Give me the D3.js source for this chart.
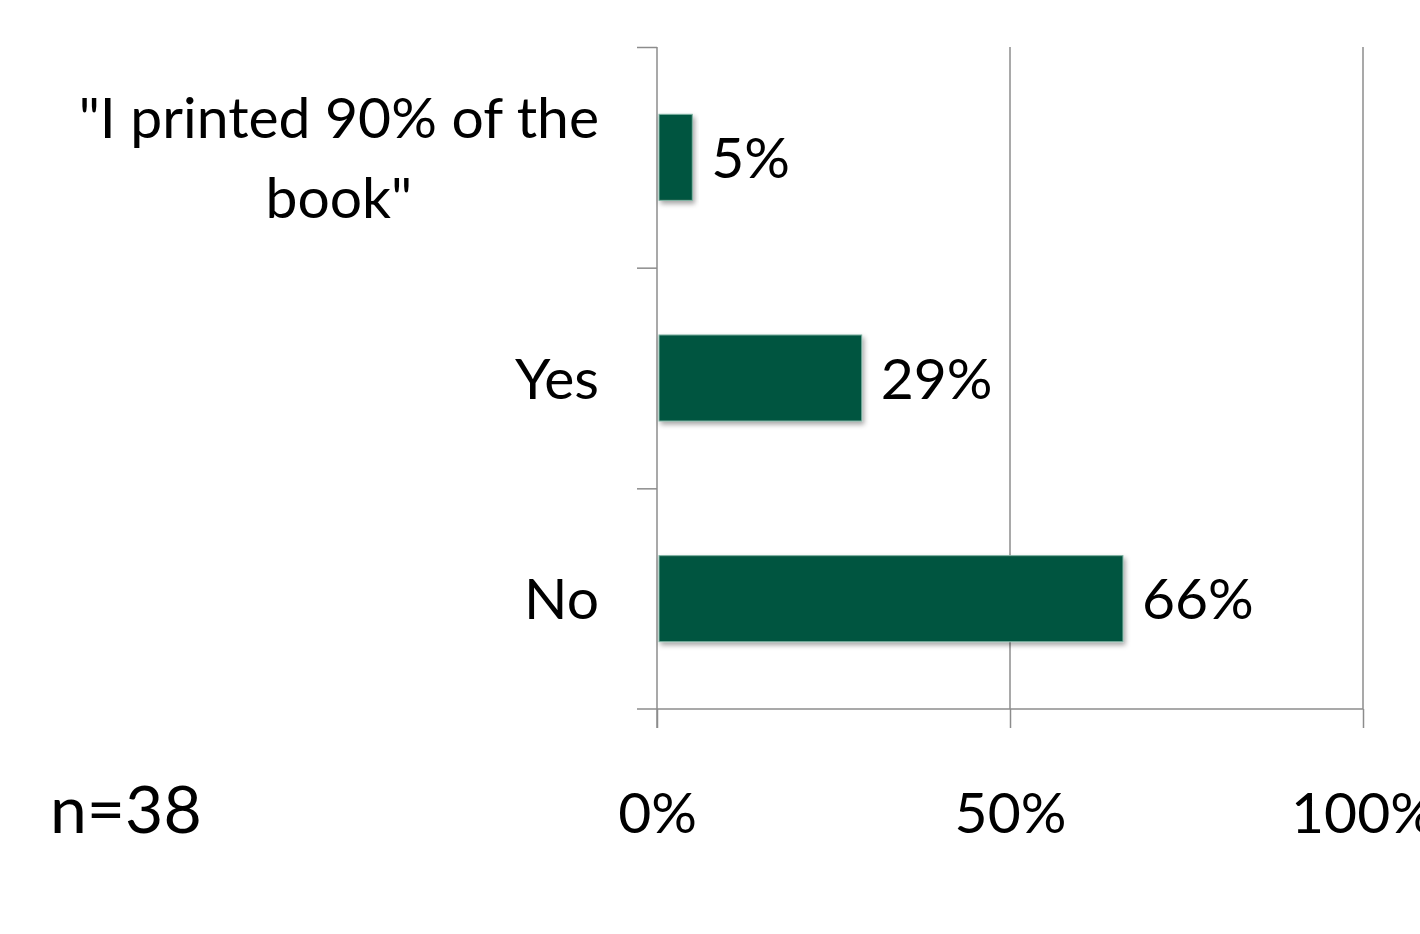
<!DOCTYPE html>
<html>
<head>
<meta charset="utf-8">
<script src="https://cdn.jsdelivr.net/npm/d3@7"></script>
<style>
  html, body { margin: 0; padding: 0; background: #fff; }
  svg { display: block; }
  text { font-family: Lato, "Open Sans", sans-serif; fill: #000; }
</style>
</head>
<body>
<svg id="chart" width="1420" height="934"></svg>
<script>
const categories = ['"I printed 90% of the book"', "Yes", "No"];
const categoryLines = [['"I printed 90% of the', 'book"'], ["Yes"], ["No"]];
const values = [5, 29, 66];
const valueLabels = ["5%", "29%", "66%"];
const xTicks = [0, 50, 100];
const xTickLabels = ["0%", "50%", "100%"];
const note = "n=38";

(function () {
const svg = d3.select("#chart");
const L = 657, R = 1363, T = 47, B = 709;
const fontSize = 57;
const grey = "#8c8c8c";

const x = d3.scaleLinear().domain([0, 100]).range([L, R]);
const y = d3.scaleBand().domain(categories).range([T, B])
  .paddingInner(0.61).paddingOuter(0.305);

const defs = svg.append("defs");
const f = defs.append("filter").attr("id", "shadow")
  .attr("x", "-10%").attr("y", "-20%").attr("width", "130%").attr("height", "160%");
f.append("feDropShadow").attr("dx", 2).attr("dy", 3).attr("stdDeviation", 2.5)
  .attr("flood-color", "#000").attr("flood-opacity", 0.35);

// gridlines
svg.append("g").selectAll("line").data(xTicks.filter(d => d > 0)).join("line")
  .attr("x1", d => x(d)).attr("x2", d => x(d))
  .attr("y1", T).attr("y2", B)
  .attr("stroke", grey).attr("stroke-width", 1.5);

// x axis
const xAxis = d3.axisBottom(x).tickValues(xTicks).tickSize(19).tickPadding(0)
  .tickFormat((d, i) => xTickLabels[i]);
const gx = svg.append("g").attr("transform", `translate(0,${B})`).call(xAxis);
gx.select(".domain").remove();
gx.selectAll(".tick line").attr("stroke", grey).attr("stroke-width", 1.5);
gx.selectAll(".tick text").attr("font-size", fontSize)
  .attr("font-family", "Lato, 'Open Sans', sans-serif").attr("fill", "#000")
  .attr("dy", null).attr("y", 124);
svg.append("line").attr("x1", L - 20).attr("x2", R)
  .attr("y1", B).attr("y2", B).attr("stroke", grey).attr("stroke-width", 1.5);

// y axis with ticks at band boundaries
const yl = d3.scaleLinear().domain([0, categories.length]).range([T, B]);
const yAxis = d3.axisLeft(yl).tickValues(d3.range(categories.length)).tickSize(20)
  .tickFormat("").tickSizeOuter(0);
const gy = svg.append("g").attr("transform", `translate(${L},0)`).call(yAxis);
gy.select(".domain").attr("stroke", grey).attr("stroke-width", 1.5)
  .attr("d", `M0,${T}V${B + 19}`);
gy.selectAll(".tick line").attr("stroke", grey).attr("stroke-width", 1.5);

// bars
svg.append("g").selectAll("rect").data(values).join("rect")
  .attr("x", x(0) + 2)
  .attr("y", (d, i) => y(categories[i]))
  .attr("width", d => x(d) - x(0) - 2)
  .attr("height", y.bandwidth())
  .attr("fill", "#02543f")
  .attr("stroke", "#7fb3a3").attr("stroke-width", 1)
  .attr("filter", "url(#shadow)");

// value labels
svg.append("g").selectAll("text").data(values).join("text")
  .attr("x", d => x(d) + 19)
  .attr("y", (d, i) => y(categories[i]) + y.bandwidth() / 2)
  .attr("dy", "0.36em")
  .attr("font-size", fontSize)
  .text((d, i) => valueLabels[i]);

// category labels
const lineH = 80;
const catG = svg.append("g");
categoryLines.forEach((lines, i) => {
  const cy = y(categories[i]) + y.bandwidth() / 2;
  const t = catG.append("text").attr("font-size", fontSize).attr("text-anchor", "middle");
  const n = lines.length;
  lines.forEach((ln, j) => {
    t.append("tspan").attr("x", 0)
      .attr("y", cy + (j - (n - 1) / 2) * lineH).attr("dy", "0.36em").text(ln);
  });
  const bb = t.node().getBBox();
  t.selectAll("tspan").attr("x", 599 - bb.width / 2);
});

// note
svg.append("text").attr("x", 50).attr("y", 833).attr("font-size", 66).text(note);
})();
</script>
</body>
</html>
